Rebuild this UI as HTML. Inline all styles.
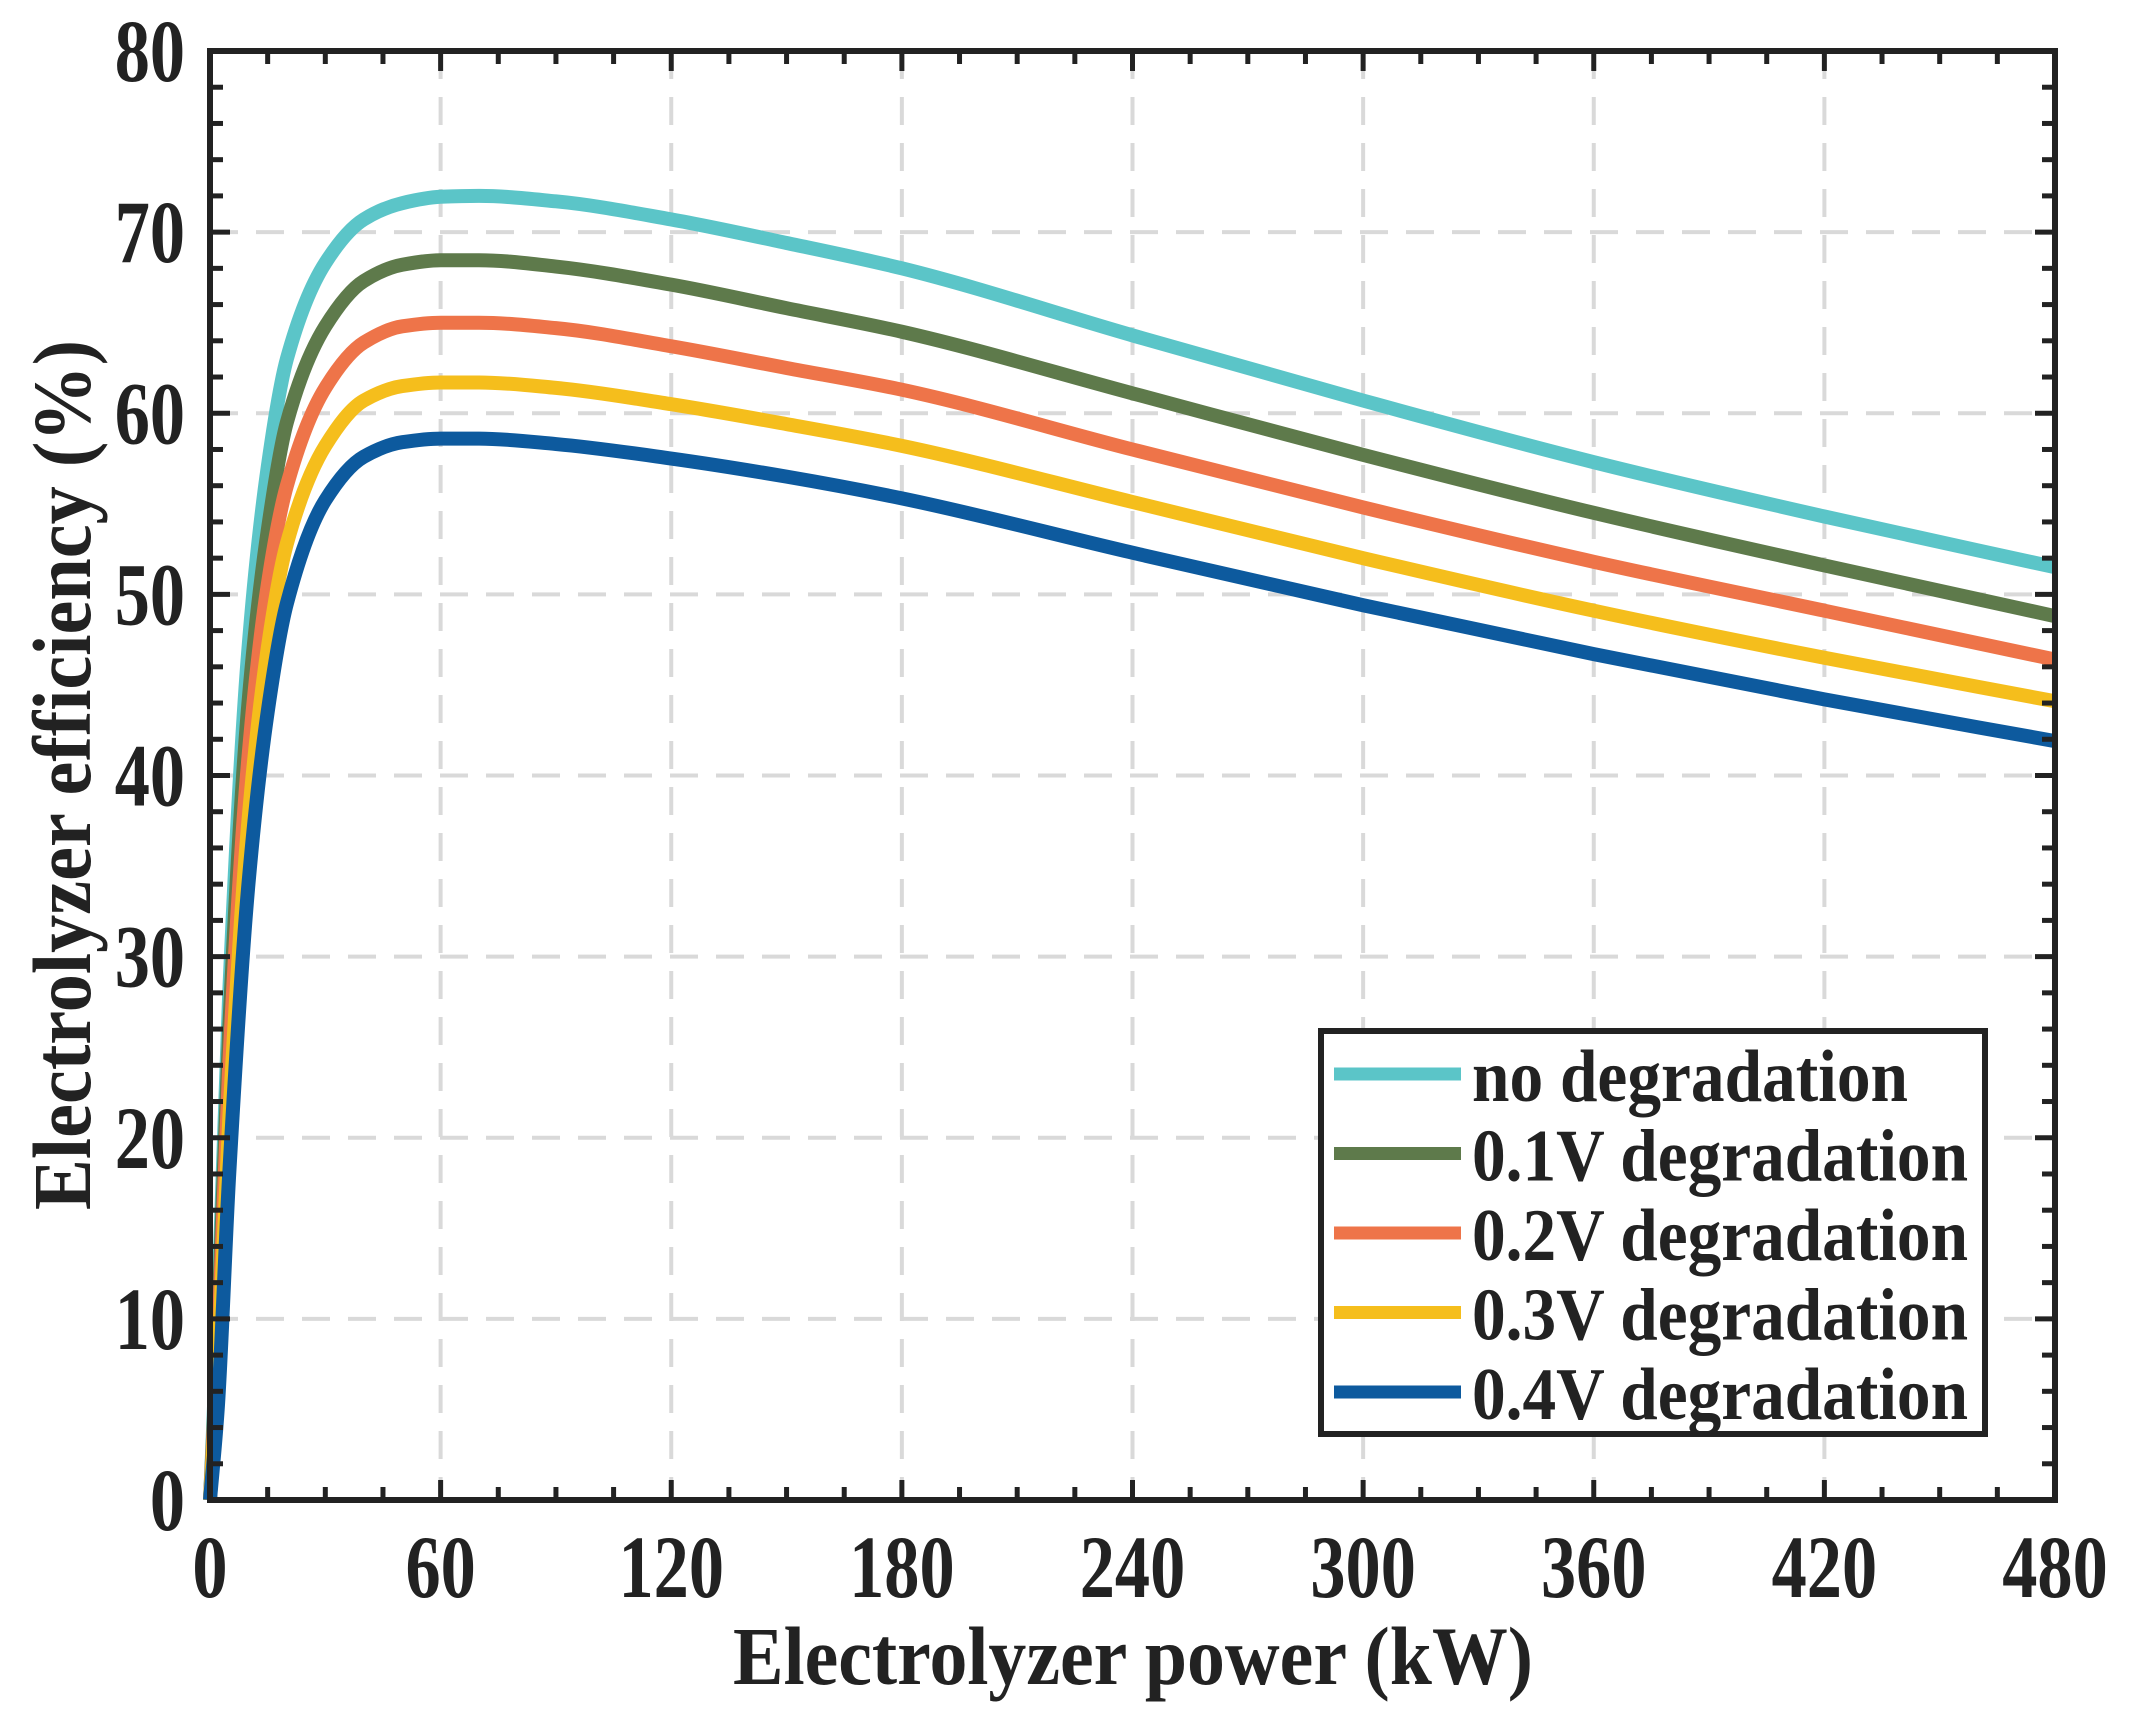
<!DOCTYPE html>
<html><head><meta charset="utf-8"><style>
html,body{margin:0;padding:0;background:#fff;width:2130px;height:1723px;overflow:hidden}
svg{display:block}
text{font-family:"Liberation Serif",serif;font-weight:bold;fill:#222}
</style></head><body>
<svg id="chart" width="2130" height="1723" viewBox="0 0 2130 1723" xmlns="http://www.w3.org/2000/svg">
<defs><clipPath id="plotclip"><rect x="200" y="51" width="1855" height="1460"/></clipPath></defs>
<g id="grid"></g>
<g id="series" clip-path="url(#plotclip)"></g>
<g id="axes"></g>
<text x="0" y="0" font-size="70" text-anchor="middle" textLength="800" lengthAdjust="spacingAndGlyphs" transform="translate(1133,1684) scale(1,1.18)">Electrolyzer power (kW)</text>
<text x="0" y="0" font-size="70" text-anchor="middle" textLength="870" lengthAdjust="spacingAndGlyphs" transform="translate(90,775) rotate(-90) scale(1,1.18)">Electrolyzer efficiency (%)</text>
<g id="legend"></g>
</svg>
<script>
const xs = [0,2,5,10,15,20,30,40,50,60,70,90,120,150,180,240,300,360,420,480];
const sNone = [0,10,28,47,57,63,68.3,70.7,71.6,71.95,72,71.7,70.7,69.4,68,64.3,60.7,57.3,54.3,51.5];
const s01 = [0,9,26,44,53.5,59.5,64.8,67.3,68.2,68.45,68.45,68.1,67.1,65.8,64.5,61.1,57.7,54.5,51.6,48.8];
const s02 = [0,8,24,41,50.5,56,61.4,63.9,64.8,65,65,64.7,63.7,62.5,61.3,58,54.8,51.8,49.1,46.4];
const s03 = [0,7,21,37.5,47,52.8,58.2,60.7,61.5,61.7,61.7,61.4,60.5,59.4,58.2,55.1,52,49.1,46.5,44.1];
const s04 = [0,5,18,34,43.5,49.5,55.2,57.6,58.4,58.6,58.6,58.3,57.5,56.5,55.3,52.3,49.4,46.7,44.2,41.9];
const seriesNames = ["no degradation","0.1V degradation","0.2V degradation","0.3V degradation","0.4V degradation"];
const xTicks = [0,60,120,180,240,300,360,420,480];
const yTicks = [0,10,20,30,40,50,60,70,80];

const NS="http://www.w3.org/2000/svg";
const L=210,R=2055,T=51,B=1500;
const X=v=>L+(v-0)/480*(R-L);
const Y=v=>B-(v-0)/80*(B-T);
function mk(tag,attrs,parent){const e=document.createElementNS(NS,tag);for(const k in attrs)e.setAttribute(k,attrs[k]);parent.appendChild(e);return e;}
const grid=document.getElementById('grid'),axes=document.getElementById('axes'),sg=document.getElementById('series'),lg=document.getElementById('legend');
xTicks.slice(1,-1).forEach(v=>{const e=mk('line',{x1:X(v),x2:X(v),y1:T,y2:B,stroke:'#d9d9d9','stroke-width':4,'stroke-dasharray':'28 18'},grid);

});
yTicks.slice(1,-1).forEach(v=>{const e=mk('line',{x1:L,x2:R,y1:Y(v),y2:Y(v),stroke:'#d9d9d9','stroke-width':4,'stroke-dasharray':'28 18'},grid);

});
const colors=['#5bc5c8','#5e7a4b','#ee7449','#f5be1c','#0d5a9e'];
const all=[sNone,s01,s02,s03,s04];
function path(ys){const n=xs.length,d=[],m=[];
for(let i=0;i<n-1;i++)d.push((ys[i+1]-ys[i])/(xs[i+1]-xs[i]));
m[0]=d[0];m[n-1]=d[n-2];
for(let i=1;i<n-1;i++){if(d[i-1]*d[i]<=0)m[i]=0;else{const h0=xs[i]-xs[i-1],h1=xs[i+1]-xs[i];const w1=2*h1+h0,w2=h1+2*h0;m[i]=(w1+w2)/(w1/d[i-1]+w2/d[i]);}}
let s='M'+X(xs[0])+','+Y(ys[0]);
for(let i=0;i<n-1;i++){const h=xs[i+1]-xs[i];
s+=` C${X(xs[i]+h/3)},${Y(ys[i]+m[i]*h/3)} ${X(xs[i+1]-h/3)},${Y(ys[i+1]-m[i+1]*h/3)} ${X(xs[i+1])},${Y(ys[i+1])}`;}
return s;}
all.forEach((ys,i)=>{const e=mk('path',{d:path(ys),fill:'none',stroke:colors[i],'stroke-width':14,'stroke-linejoin':'round','stroke-linecap':'butt'},sg);

});
const box=mk('rect',{x:L,y:T,width:R-L,height:B-T,fill:'none',stroke:'#222','stroke-width':6},axes);


for(let v=0;v<=480;v+=15){const len=v%60===0?20:13;
mk('line',{x1:X(v),x2:X(v),y1:B,y2:B-len,stroke:'#222','stroke-width':5},axes);
mk('line',{x1:X(v),x2:X(v),y1:T,y2:T+len,stroke:'#222','stroke-width':5},axes);}
for(let v=0;v<=80;v+=2){const len=v%10===0?20:13;
mk('line',{x1:L,x2:L+len,y1:Y(v),y2:Y(v),stroke:'#222','stroke-width':5},axes);
mk('line',{x1:R,x2:R-len,y1:Y(v),y2:Y(v),stroke:'#222','stroke-width':5},axes);}
xTicks.forEach(v=>{const t=mk('text',{x:0,y:0,'font-size':74,'text-anchor':'middle',transform:`translate(${X(v)},1597) scale(0.95,1.2)`},axes);t.textContent=v;

});
yTicks.forEach(v=>{const t=mk('text',{x:0,y:0,'font-size':74,'text-anchor':'end',transform:`translate(185,${Y(v)+30}) scale(0.95,1.2)`},axes);t.textContent=v;

});
const lb=mk('rect',{x:1321,y:1031,width:664,height:403,fill:'#fff',stroke:'#222','stroke-width':6},lg);


seriesNames.forEach((n,i)=>{const y=1074+i*79.5;
const ln=mk('line',{x1:1334,x2:1461,y1:y,y2:y,stroke:colors[i],'stroke-width':13},lg);


const t=mk('text',{x:0,y:0,'font-size':62,fill:'#111',transform:`translate(1472,${y+27}) scale(1,1.2)`,lengthAdjust:'spacingAndGlyphs'},lg);t.textContent=n;


t.setAttribute('textLength',i>0?496:436);});
</script>
</body></html>
